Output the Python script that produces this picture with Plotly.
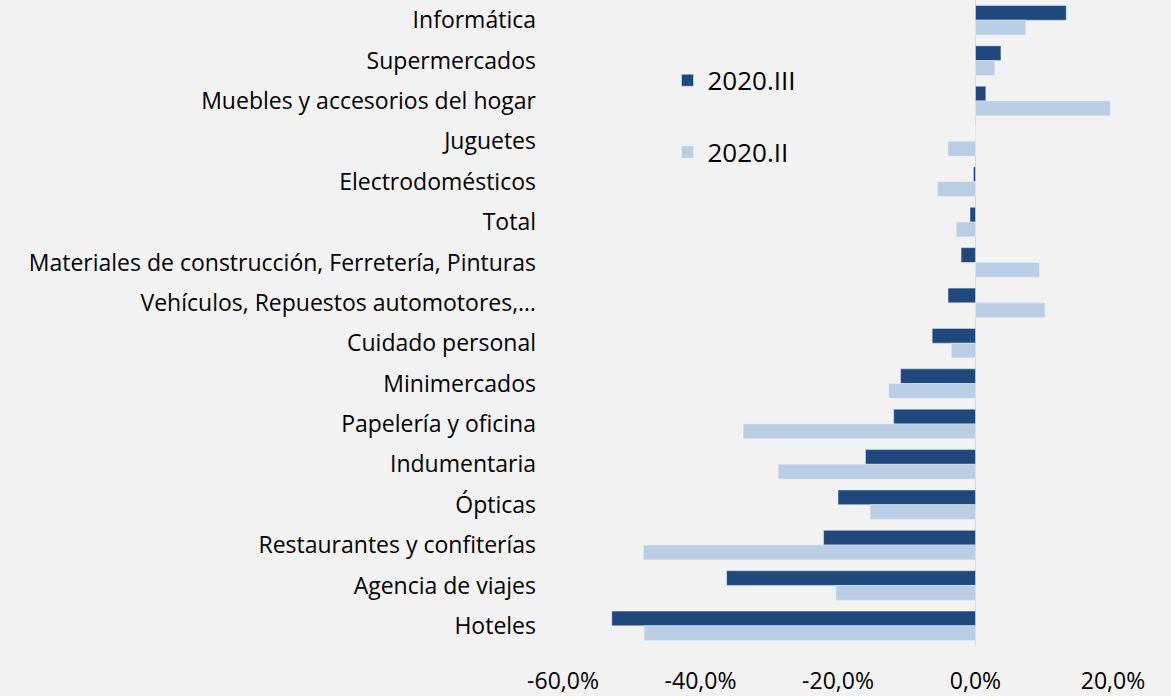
import plotly.graph_objects as go

categorias = [
    "Informática", "Supermercados", "Muebles y accesorios del hogar", "Juguetes",
    "Electrodomésticos", "Total", "Materiales de construcción, Ferretería, Pinturas",
    "Vehículos, Repuestos automotores,…", "Cuidado personal", "Minimercados",
    "Papelería y oficina", "Indumentaria", "Ópticas", "Restaurantes y confiterías",
    "Agencia de viajes", "Hoteles",
]
serie_2020_III = [13.2, 3.7, 1.5, 0.0, -0.3, -0.8, -2.1, -4.0, -6.3, -10.9,
                  -11.9, -16.0, -20.0, -22.1, -36.2, -52.9]
serie_2020_II = [7.3, 2.8, 19.6, -4.0, -5.5, -2.8, 9.3, 10.1, -3.5, -12.6,
                 -33.8, -28.7, -15.3, -48.3, -20.3, -48.2]
ticks_x = [-0.6, -0.4, -0.2, 0, 0.2]
etiquetas_x = ["-60,0%", "-40,0%", "-20,0%", "0,0%", "20,0%"]

fuente = "Open Sans"

fig = go.Figure()
fig.add_trace(go.Bar(y=categorias, x=[v / 100 for v in serie_2020_III], name="2020.III",
                     orientation="h", marker_color="#1f497d", legendgroup="a"))
fig.add_trace(go.Bar(y=categorias, x=[v / 100 for v in serie_2020_II], name="2020.II",
                     orientation="h", marker_color="#b9cde5", legendgroup="b"))

fig.update_layout(
    width=1171, height=696,
    margin=dict(l=563, r=58, t=0, b=47),
    paper_bgcolor="#f2f2f2", plot_bgcolor="#f2f2f2",
    barmode="group", bargap=0.27, bargroupgap=0,
    font=dict(family=fuente, size=23, color="#000000"),
    legend=dict(x=0.19, y=0.912, xanchor="left", yanchor="top",
                font=dict(size=26), tracegroupgap=35, traceorder="grouped",
                bgcolor="rgba(0,0,0,0)"),
    xaxis=dict(range=[-0.6, 0.2], tickvals=ticks_x, ticktext=etiquetas_x,
               showgrid=False, zeroline=True, zerolinecolor="#d9d9d9",
               zerolinewidth=1, ticklabelstandoff=19, showline=False),
    yaxis=dict(autorange="reversed", showgrid=False, ticklabelstandoff=26,
               showline=False),
)

fig.write_html("out.html", config={"displayModeBar": False},
               post_script="document.body.style.margin='0';")
